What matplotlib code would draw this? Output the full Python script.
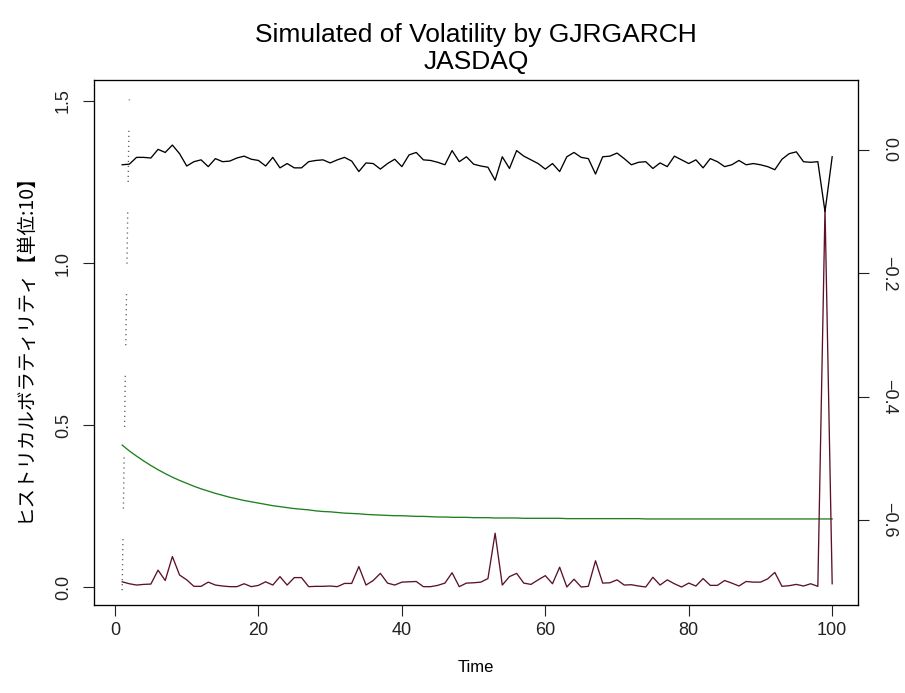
import matplotlib
matplotlib.use("Agg")
import matplotlib.pyplot as plt
import numpy as np

# ---------------- data ----------------
time = list(range(1, 101))

# historical volatility (left axis, maroon)
hist_vol = [0.016, 0.010, 0.006, 0.008, 0.009, 0.052, 0.020, 0.094, 0.037, 0.022,
            0.002, 0.002, 0.015, 0.006, 0.003, 0.001, 0.001, 0.010, 0.001, 0.005,
            0.016, 0.006, 0.032, 0.006, 0.029, 0.029, 0.001, 0.002, 0.002, 0.003,
            0.001, 0.011, 0.011, 0.063, 0.006, 0.020, 0.042, 0.012, 0.006, 0.015,
            0.016, 0.017, 0.001, 0.001, 0.005, 0.012, 0.044, 0.001, 0.012, 0.013,
            0.015, 0.026, 0.166, 0.006, 0.032, 0.042, 0.012, 0.008, 0.022, 0.035,
            0.010, 0.061, 0.000, 0.024, 0.000, 0.002, 0.081, 0.012, 0.013, 0.022,
            0.006, 0.007, 0.003, 0.000, 0.030, 0.006, 0.022, 0.010, 0.000, 0.012,
            0.003, 0.026, 0.005, 0.005, 0.020, 0.012, 0.003, 0.017, 0.015, 0.015,
            0.025, 0.045, 0.002, 0.004, 0.008, 0.003, 0.010, 0.002, 1.170, 0.010]

# simulated GJR-GARCH volatility (left axis, green)
sim_vol = [0.438, 0.420, 0.404, 0.389, 0.375, 0.362, 0.350, 0.339, 0.329, 0.320,
           0.311, 0.303, 0.296, 0.289, 0.283, 0.277, 0.272, 0.267, 0.263, 0.259,
           0.255, 0.251, 0.248, 0.245, 0.242, 0.240, 0.238, 0.235, 0.233, 0.232,
           0.230, 0.228, 0.227, 0.226, 0.224, 0.223, 0.222, 0.221, 0.220, 0.220,
           0.219, 0.218, 0.218, 0.217, 0.216, 0.216, 0.215, 0.215, 0.215, 0.214,
           0.214, 0.214, 0.213, 0.213, 0.213, 0.213, 0.212, 0.212, 0.212, 0.212,
           0.212, 0.212, 0.211, 0.211, 0.211, 0.211, 0.211, 0.211, 0.211, 0.211,
           0.211, 0.211, 0.211, 0.210, 0.210, 0.210, 0.210, 0.210, 0.210, 0.210,
           0.210, 0.210, 0.210, 0.210, 0.210, 0.210, 0.210, 0.210, 0.210, 0.210,
           0.210, 0.210, 0.210, 0.210, 0.210, 0.210, 0.210, 0.210, 0.210, 0.210]

# returns (right axis, black)
returns = [-0.024, -0.023, -0.012, -0.012, -0.013, 0.001, -0.004, 0.008, -0.006, -0.026,
           -0.019, -0.016, -0.027, -0.014, -0.019, -0.018, -0.013, -0.010, -0.015, -0.017,
           -0.026, -0.012, -0.029, -0.022, -0.029, -0.029, -0.019, -0.017, -0.016, -0.021,
           -0.016, -0.012, -0.018, -0.035, -0.021, -0.022, -0.031, -0.022, -0.015, -0.027,
           -0.008, -0.004, -0.016, -0.017, -0.020, -0.024, -0.001, -0.019, -0.011, -0.023,
           -0.026, -0.028, -0.049, -0.011, -0.030, -0.001, -0.010, -0.016, -0.022, -0.031,
           -0.022, -0.035, -0.011, -0.004, -0.012, -0.014, -0.039, -0.011, -0.010, -0.005,
           -0.014, -0.024, -0.020, -0.019, -0.030, -0.021, -0.027, -0.010, -0.016, -0.022,
           -0.016, -0.029, -0.014, -0.019, -0.027, -0.024, -0.017, -0.024, -0.022, -0.024,
           -0.027, -0.032, -0.015, -0.006, -0.003, -0.019, -0.020, -0.019, -0.100, -0.011]

# dotted guide series (left axis)
guide_x = [1, 2]
guide_y = [-0.01, 1.505]

x_ticks = [0, 20, 40, 60, 80, 100]
left_ticks = [0.0, 0.5, 1.0, 1.5]
right_ticks = [0.0, -0.2, -0.4, -0.6]

title_line1 = "Simulated of Volatility by GJRGARCH"
title_line2 = "JASDAQ"
xlabel = "Time"
ylabel = "ヒストリカルボラティリティ【単位:10】"

# ---------------- figure ----------------
plt.rcParams['font.family'] = ['Liberation Sans', 'DejaVu Sans']
W, H = 905, 693
fig = plt.figure(figsize=(W / 100, H / 100), dpi=100)
L, R, T, B = 94, 858, 80, 605
ax = fig.add_axes([L / W, 1 - B / H, (R - L) / W, (B - T) / H])

ax.plot(guide_x, guide_y, color='#555555', lw=1.0,
        linestyle=(0, tuple([0.8, 2.8] * 10 + [0.8, 22])))
ax.plot(time, sim_vol, color='#1f7f1f', lw=0.95)
ax.plot(time, hist_vol, color='#5c1226', lw=0.95)

ax.set_xlim(-2.93, 103.6)
ax.set_ylim(-0.0556, 1.565)
ax.set_xticks(x_ticks)
ax.set_yticks(left_ticks)
ax.set_yticklabels([f"{v:.1f}" for v in left_ticks], rotation=90, va='center')
ax.tick_params(direction='out', length=8, width=0.8, labelsize=13, colors='#222222')
ax.tick_params(axis='x', pad=4)
ax.tick_params(axis='y', pad=8)
for s in ax.spines.values():
    s.set_linewidth(0.9)
    s.set_color('#222222')

ax2 = ax.twinx()
ax2.plot(time, returns, color='black', lw=0.95)
ax2.set_ylim(-0.738, 0.1135)
ax2.set_yticks(right_ticks)
ax2.set_yticklabels([f"{v:.1f}".replace('-', '\u2212') for v in right_ticks],
                    rotation=-90, va='center')
ax2.tick_params(direction='out', length=8, width=0.8, labelsize=13, colors='#222222', pad=8)

cx = 0.5 * (L + R) / W
fig.text(cx, 1 - 35 / H, title_line1, ha='center', va='center', fontsize=19)
fig.text(cx, 1 - 62 / H, title_line2, ha='center', va='center', fontsize=19)
fig.text(cx, 1 - 668 / H, xlabel, ha='center', va='center', fontsize=12)
fig.text(24 / W, 1 - 0.5 * (T + B) / H, ylabel, ha='center', va='center', rotation=90,
         fontsize=14, family=['Noto Sans CJK JP', 'DejaVu Sans'])

fig.savefig("out.png", dpi=100)
